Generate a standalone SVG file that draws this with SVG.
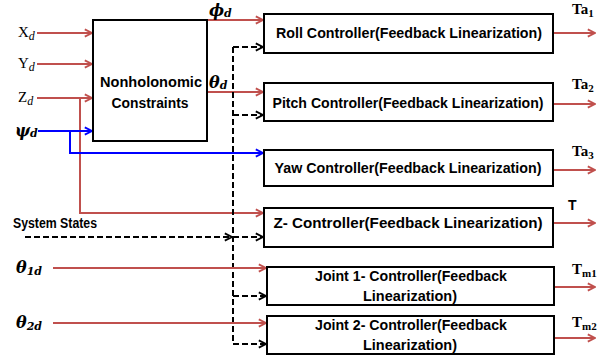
<svg xmlns="http://www.w3.org/2000/svg" width="609" height="362" viewBox="0 0 609 362">
<style>
.box{fill:#fff;stroke:#000;stroke-width:2}
.lbl{font-family:"Liberation Sans",Arial,sans-serif;font-weight:bold;font-size:14px;fill:#000}
.math{font-family:"Liberation Serif","Times New Roman",serif;font-size:15px;fill:#000}
.greek{font-family:"DejaVu Serif",serif;font-weight:bold;font-style:italic;font-size:16px;fill:#000}
.red{fill:none;stroke:#c0504d;stroke-width:2;marker-end:url(#ar)}
.redl{fill:none;stroke:#c0504d;stroke-width:2}
.blue{fill:none;stroke:#0000ff;stroke-width:2}
.dash{fill:none;stroke:#000;stroke-width:2;stroke-dasharray:6 3}
</style>
<defs>
<marker id="ar" viewBox="0 0 10 10" refX="9" refY="5" markerWidth="9" markerHeight="10" markerUnits="userSpaceOnUse" orient="auto"><path d="M1,1 L9,5 L1,9" fill="none" stroke="#c0504d" stroke-width="2"/></marker>
<marker id="ab" viewBox="0 0 10 10" refX="9" refY="5" markerWidth="9" markerHeight="10" markerUnits="userSpaceOnUse" orient="auto"><path d="M1,1 L9,5 L1,9" fill="none" stroke="#0000ff" stroke-width="2"/></marker>
<marker id="ak" viewBox="0 0 10 10" refX="9" refY="5" markerWidth="9" markerHeight="10" markerUnits="userSpaceOnUse" orient="auto"><path d="M1,1 L9,5 L1,9" fill="none" stroke="#000" stroke-width="2"/></marker>
</defs>
<rect width="609" height="362" fill="#fff"/>

<g id="connectors">
  <line class="red" x1="37" y1="33" x2="92" y2="33"/>
  <line class="red" x1="37" y1="64" x2="92" y2="64"/>
  <line class="red" x1="37" y1="98" x2="92" y2="98"/>
  <polyline class="redl" points="80,98 80,213 200,213"/>
  <line class="red" x1="200" y1="213" x2="263" y2="213"/>
  <line class="blue" x1="38" y1="131" x2="92" y2="131" marker-end="url(#ab)"/>
  <polyline class="blue" points="70,131 70,153 263,153" marker-end="url(#ab)"/>
  <line class="red" x1="207" y1="20" x2="263" y2="20"/>
  <line class="red" x1="207" y1="92" x2="263" y2="92"/>
  <line class="dash" x1="25" y1="237" x2="232" y2="237" marker-end="url(#ak)"/>
  <line class="dash" x1="233" y1="47" x2="233" y2="344"/>
  <line class="dash" x1="233" y1="47" x2="263" y2="47" marker-end="url(#ak)"/>
  <line class="dash" x1="233" y1="115" x2="263" y2="115" marker-end="url(#ak)"/>
  <line class="dash" x1="233" y1="237" x2="263" y2="237" marker-end="url(#ak)"/>
  <line class="dash" x1="233" y1="296" x2="266" y2="296" marker-end="url(#ak)"/>
  <line class="dash" x1="233" y1="344" x2="266" y2="344" marker-end="url(#ak)"/>
  <line class="red" x1="53" y1="268" x2="266" y2="268"/>
  <line class="red" x1="53" y1="323" x2="266" y2="323"/>
  <line class="red" x1="553" y1="33" x2="595" y2="33"/>
  <line class="red" x1="553" y1="104" x2="595" y2="104"/>
  <line class="red" x1="553" y1="170" x2="595" y2="170"/>
  <line class="red" x1="553" y1="223" x2="595" y2="223"/>
  <line class="red" x1="554" y1="287" x2="595" y2="287"/>
  <line class="red" x1="554" y1="338" x2="595" y2="338"/>
</g>

<g id="nonholonomic">
  <rect class="box" x="93" y="20" width="114" height="121"/>
  <text class="lbl" x="151" y="87" text-anchor="middle" font-size="15" textLength="102" lengthAdjust="spacingAndGlyphs">Nonholonomic</text>
  <text class="lbl" x="150" y="108" text-anchor="middle" font-size="15" textLength="77" lengthAdjust="spacingAndGlyphs">Constraints</text>
</g>

<g id="roll">
  <rect class="box" x="264" y="14" width="289" height="39"/>
  <text class="lbl" x="409" y="38" text-anchor="middle" textLength="266" lengthAdjust="spacingAndGlyphs">Roll Controller(Feedback Linearization)</text>
</g>
<g id="pitch">
  <rect class="box" x="264" y="83" width="289" height="38"/>
  <text class="lbl" x="408" y="108" text-anchor="middle" textLength="271" lengthAdjust="spacingAndGlyphs">Pitch Controller(Feedback Linearization)</text>
</g>
<g id="yaw">
  <rect class="box" x="264" y="150" width="289" height="36"/>
  <text class="lbl" x="408" y="173" text-anchor="middle" textLength="267" lengthAdjust="spacingAndGlyphs">Yaw Controller(Feedback Linearization)</text>
</g>
<g id="zctrl">
  <rect class="box" x="264" y="208" width="289" height="39"/>
  <text class="lbl" x="408" y="228" text-anchor="middle" textLength="269" lengthAdjust="spacingAndGlyphs">Z- Controller(Feedback Linearization)</text>
</g>
<g id="joint1">
  <rect class="box" x="267" y="267" width="287" height="38"/>
  <text class="lbl" x="411" y="281" text-anchor="middle" textLength="192" lengthAdjust="spacingAndGlyphs">Joint 1- Controller(Feedback</text>
  <text class="lbl" x="410" y="301" text-anchor="middle" textLength="94" lengthAdjust="spacingAndGlyphs">Linearization)</text>
</g>
<g id="joint2">
  <rect class="box" x="267" y="316" width="287" height="38"/>
  <text class="lbl" x="411" y="330" text-anchor="middle" textLength="192" lengthAdjust="spacingAndGlyphs">Joint 2- Controller(Feedback</text>
  <text class="lbl" x="410" y="350" text-anchor="middle" textLength="94" lengthAdjust="spacingAndGlyphs">Linearization)</text>
</g>

<g id="labels">
  <text class="math" x="18" y="37">X<tspan font-style="italic" font-size="12" dy="3">d</tspan></text>
  <text class="math" x="18" y="68">Y<tspan font-style="italic" font-size="12" dy="3">d</tspan></text>
  <text class="math" x="18" y="102">Z<tspan font-style="italic" font-size="12" dy="3">d</tspan></text>
  <text class="greek" x="15" y="136">ψ<tspan font-size="11" dy="1">d</tspan></text>
  <text class="greek" x="209" y="16">ϕ<tspan font-size="11" dy="1">d</tspan></text>
  <text class="greek" x="209" y="88">θ<tspan font-size="11" dy="1">d</tspan></text>
  <text class="lbl" x="13" y="228" textLength="84" lengthAdjust="spacingAndGlyphs">System States</text>
  <text class="greek" x="16" y="273">θ<tspan font-size="11" dy="2">1d</tspan></text>
  <text class="greek" x="16" y="328">θ<tspan font-size="11" dy="2">2d</tspan></text>
  <text class="math" x="572" y="14" font-weight="bold" font-size="14">Ta<tspan font-size="11" dy="3">1</tspan></text>
  <text class="math" x="572" y="89" font-weight="bold" font-size="14">Ta<tspan font-size="11" dy="3">2</tspan></text>
  <text class="math" x="572" y="156" font-weight="bold" font-size="14">Ta<tspan font-size="11" dy="3">3</tspan></text>
  <text class="lbl" x="568" y="210" font-size="12">T</text>
  <text class="math" x="572" y="274" font-weight="bold" font-size="14">T<tspan font-size="11" dy="3">m1</tspan></text>
  <text class="math" x="572" y="327" font-weight="bold" font-size="14">T<tspan font-size="11" dy="3">m2</tspan></text>
</g>
</svg>
